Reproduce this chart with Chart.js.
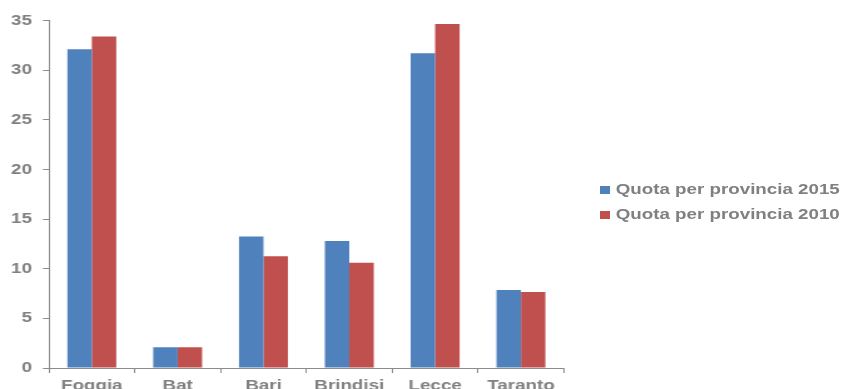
<!DOCTYPE html>
<html>
<head>
<meta charset="utf-8">
<script src="https://cdn.jsdelivr.net/npm/chart.js@4/dist/chart.umd.min.js"></script>
<style>
  html, body { margin: 0; padding: 0; background: #fff; }
  #wrap { position: relative; width: 847px; height: 389px; overflow: hidden; }
  /* the whole figure is laid out narrow and stretched 1.25x horizontally */
  #stage { position: absolute; left: 0; top: 0; width: 677.6px; height: 399px; transform: scaleX(1.25); transform-origin: 0 0; }
  #chartBox { position: absolute; left: 0; top: 0; width: 677.6px; height: 399px; }
  #legend { position: absolute; left: 480px; top: 178.5px; font: bold 15px "Liberation Sans", Arial, sans-serif; color: #808080; }
  #legend .item { position: relative; height: 25px; line-height: 20px; white-space: nowrap; }
  #legend .swatch { position: absolute; left: 0; top: 7.5px; width: 8px; height: 8px; }
  #legend .text { position: absolute; left: 12.6px; top: 0; }
</style>
</head>
<body>
<div id="wrap">
  <div id="stage">
    <div id="chartBox"><canvas id="quotaChart"></canvas></div>
    <div id="legend"></div>
  </div>
</div>
<script>
const provinces = ["Foggia", "Bat", "Bari", "Brindisi", "Lecce", "Taranto"];
const quota2015 = [32.1, 2.1, 13.25, 12.8, 31.7, 7.85];
const quota2010 = [33.4, 2.1, 11.25, 10.6, 34.65, 7.65];
const yTicks = [0, 5, 10, 15, 20, 25, 30, 35];

const GREY = "#808080";
const AXIS = "#8c8c8c";
const FONT = { family: "'Liberation Sans', Arial, sans-serif", size: 15, weight: "bold" };

const datasets = [
  { label: "Quota per provincia 2015", data: quota2015, backgroundColor: "#4f81bd" },
  { label: "Quota per provincia 2010", data: quota2010, backgroundColor: "#c0504d" },
];

// legend on the right, built from the datasets
const legendEl = document.getElementById("legend");
legendEl.innerHTML = datasets.map(ds =>
  `<div class="item"><span class="swatch" style="background:${ds.backgroundColor}"></span><span class="text">${ds.label}</span></div>`
).join("");

const ctx = document.getElementById("quotaChart").getContext("2d");
new Chart(ctx, {
  type: "bar",
  data: {
    labels: provinces,
    datasets: datasets.map(ds => ({
      ...ds,
      categoryPercentage: 0.57,
      barPercentage: 1.0,
      borderWidth: 0,
    })),
  },
  options: {
    responsive: true,
    maintainAspectRatio: false,
    animation: false,
    layout: { padding: { left: 0, right: 227.2, top: 20.5, bottom: 0 } },
    plugins: {
      legend: { display: false },
      tooltip: { enabled: false },
    },
    scales: {
      x: {
        offset: true,
        grid: { display: true, drawOnChartArea: false, drawTicks: true, tickLength: 5, color: AXIS, offset: true },
        border: { color: AXIS },
        ticks: { color: GREY, font: FONT, padding: 4, maxRotation: 0 },
      },
      y: {
        min: 0,
        max: 35,
        afterBuildTicks: axis => { axis.ticks = yTicks.map(v => ({ value: v })); },
        grid: { display: true, drawOnChartArea: false, drawTicks: true, tickLength: 4.8, color: AXIS },
        border: { color: AXIS },
        ticks: { color: GREY, font: FONT, padding: 8.8 },
      },
    },
  },
});
</script>
</body>
</html>
